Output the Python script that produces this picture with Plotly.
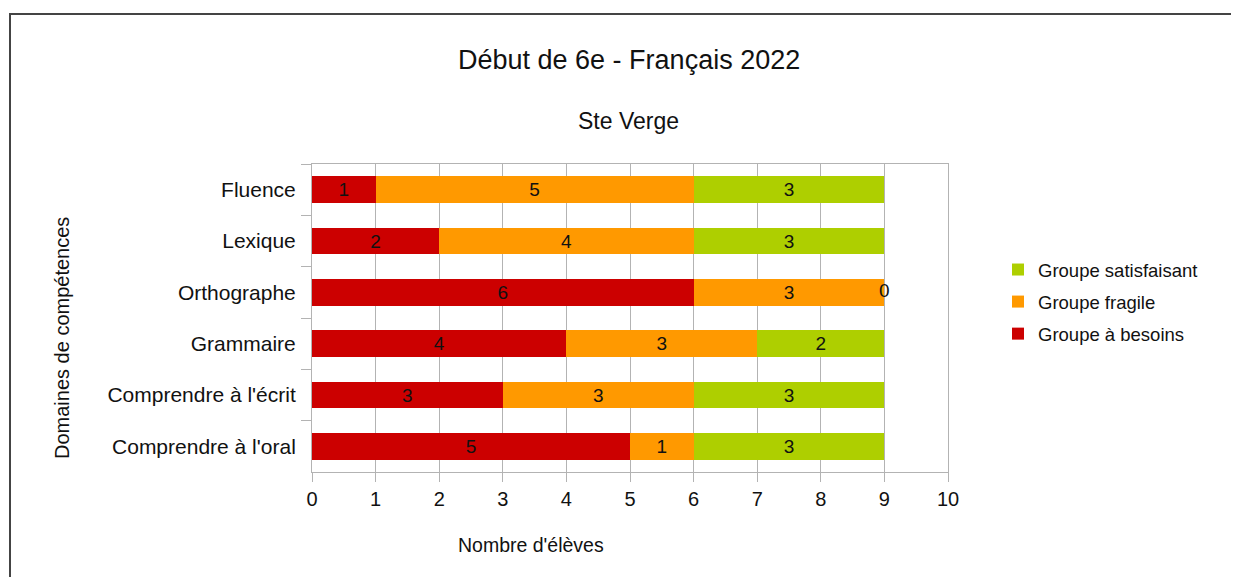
import plotly.graph_objects as go

categories = ["Fluence", "Lexique", "Orthographe", "Grammaire",
              "Comprendre à l'écrit", "Comprendre à l'oral"]
besoins = [1, 2, 6, 4, 3, 5]
fragile = [5, 4, 3, 3, 3, 1]
satisfaisant = [3, 3, 0, 2, 3, 3]

series = [
    ("Groupe à besoins", besoins, "#CC0000", 3),
    ("Groupe fragile", fragile, "#FF9900", 2),
    ("Groupe satisfaisant", satisfaisant, "#AECF00", 1),
]

FONT = "Liberation Sans, Arial, sans-serif"
OFF = 8  # page body margin
W, H = 1239 - 2 * OFF, 585 - 2 * OFF
L, R, T, B = 312 - OFF, 948 - OFF, 164 - OFF, 472 - OFF  # plot area (figure px)


def xp(px):
    return (px - OFF - L) / (R - L)


def yp(py):
    return (B - (py - OFF)) / (B - T)


fig = go.Figure()
cum = [0] * len(categories)
zero_x, zero_y, zero_t = [], [], []
for name, vals, color, rank in series:
    fig.add_trace(go.Bar(
        y=categories, x=vals, name=name, orientation="h",
        marker=dict(color=color, line=dict(width=0)),
        text=[str(v) if v != 0 else "" for v in vals],
        textposition="inside", insidetextanchor="middle", textangle=0,
        textfont=dict(color="#111111", size=19, family=FONT),
        constraintext="none", cliponaxis=False,
        legendgroup=name, legendrank=rank, hoverinfo="x+name",
    ))
    for j, v in enumerate(vals):
        if v == 0:
            zero_x.append(cum[j])
            zero_y.append(categories[j])
            zero_t.append(str(v))
        cum[j] += v

fig.add_trace(go.Scatter(
    x=zero_x, y=zero_y, text=zero_t, mode="text", showlegend=False,
    textfont=dict(color="#111111", size=19, family=FONT),
    textposition="middle center", cliponaxis=False, hoverinfo="skip",
))

fig.update_layout(
    width=W, height=H,
    barmode="stack", bargap=0.48,
    paper_bgcolor="white", plot_bgcolor="white",
    font=dict(family=FONT, color="#111111"),
    margin=dict(l=L, r=W - R, t=T, b=H - B, autoexpand=False),
    showlegend=True,
    legend=dict(
        x=xp(998), y=yp(251), xanchor="left", yanchor="top",
        traceorder="grouped", tracegroupgap=5,
        font=dict(size=18.5, family=FONT, color="#111111"),
        bgcolor="rgba(0,0,0,0)",
    ),
    xaxis=dict(
        range=[0, 10], dtick=1, tick0=0,
        showgrid=True, gridcolor="#b3b3b3", gridwidth=1,
        showline=True, linecolor="#b3b3b3", linewidth=1, mirror=True,
        ticks="outside", ticklen=9, tickcolor="#b3b3b3",
        tickfont=dict(size=20, family=FONT, color="#111111"),
        zeroline=False, fixedrange=True,
    ),
    yaxis=dict(
        categoryorder="array", categoryarray=categories,
        autorange="reversed",
        showgrid=False,
        showline=True, linecolor="#b3b3b3", linewidth=1, mirror=True,
        ticks="outside", ticklen=10, tickcolor="#b3b3b3",
        tickson="boundaries", ticklabelstandoff=11,
        tickfont=dict(size=21, family=FONT, color="#111111"),
        fixedrange=True,
    ),
    shapes=[dict(
        type="rect", xref="paper", yref="paper",
        x0=xp(10), x1=xp(1260), y0=yp(600), y1=yp(14),
        line=dict(color="#444444", width=2), fillcolor="rgba(0,0,0,0)",
        layer="above",
    )],
    annotations=[
        dict(text="Début de 6e - Français 2022", x=xp(629), y=yp(60),
             xref="paper", yref="paper", showarrow=False,
             xanchor="center", yanchor="middle",
             font=dict(size=27, family=FONT, color="#111111")),
        dict(text="Ste Verge", x=xp(628), y=yp(121),
             xref="paper", yref="paper", showarrow=False,
             xanchor="center", yanchor="middle",
             font=dict(size=23, family=FONT, color="#111111")),
        dict(text="Nombre d'élèves", x=xp(531), y=yp(545),
             xref="paper", yref="paper", showarrow=False,
             xanchor="center", yanchor="middle",
             font=dict(size=19.5, family=FONT, color="#111111")),
        dict(text="Domaines de compétences", x=xp(62), y=yp(338),
             xref="paper", yref="paper", showarrow=False, textangle=-90,
             xanchor="center", yanchor="middle",
             font=dict(size=20, family=FONT, color="#111111")),
    ],
)

fig.write_html("out.html")
